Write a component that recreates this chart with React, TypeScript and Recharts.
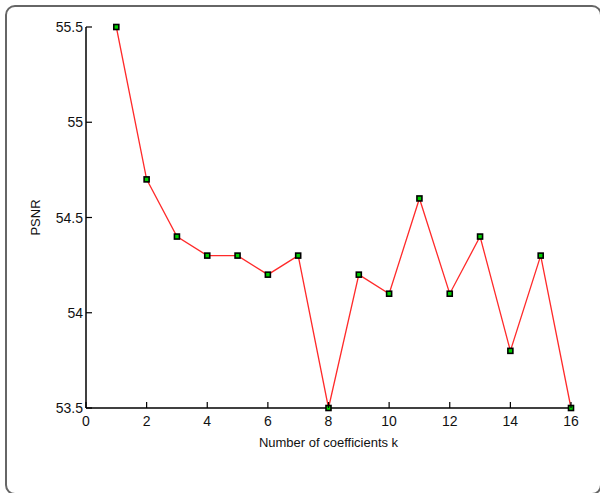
import React from "react";
import { Line, LineChart, XAxis, YAxis } from "recharts";

const K_VALUES = [1, 2, 3, 4, 5, 6, 7, 8, 9, 10, 11, 12, 13, 14, 15, 16];
const PSNR_VALUES = [55.5, 54.7, 54.4, 54.3, 54.3, 54.2, 54.3, 53.5, 54.2, 54.1, 54.6, 54.1, 54.4, 53.8, 54.3, 53.5];
const X_TICKS = [0, 2, 4, 6, 8, 10, 12, 14, 16];
const Y_TICKS = [53.5, 54, 54.5, 55, 55.5];

const data = K_VALUES.map((k, i) => ({ k, psnr: PSNR_VALUES[i] }));

const W = 600;
const H = 493;
const PLOT = { left: 86, top: 27, right: 571, bottom: 408 };
const TICK_LEN = 6;
const FONT = "'Liberation Sans', Arial, Helvetica, sans-serif";
const TEXT = "#111";

function BottomTick({ x, payload }: any) {
  return (
    <g>
      <line x1={x} x2={x} y1={PLOT.bottom} y2={PLOT.bottom - TICK_LEN} stroke="#000" strokeWidth={1.2} />
      <text x={x} y={PLOT.bottom + 18} textAnchor="middle" fontSize={14} fill={TEXT} fontFamily={FONT}>
        {payload.value}
      </text>
    </g>
  );
}

function TopTick({ x }: any) {
  return <line x1={x} x2={x} y1={PLOT.top} y2={PLOT.top + TICK_LEN} stroke="#000" strokeWidth={1.2} />;
}

function LeftTick({ y, payload }: any) {
  return (
    <g>
      <line x1={PLOT.left} x2={PLOT.left + TICK_LEN} y1={y} y2={y} stroke="#000" strokeWidth={1.2} />
      <text x={PLOT.left - 3} y={y + 5} textAnchor="end" fontSize={14} fill={TEXT} fontFamily={FONT}>
        {String(payload.value)}
      </text>
    </g>
  );
}

function RightTick({ y }: any) {
  return <line x1={PLOT.right} x2={PLOT.right - TICK_LEN} y1={y} y2={y} stroke="#000" strokeWidth={1.2} />;
}

// matlab-style square marker: black edge, green face
function SquareDot({ cx, cy }: any) {
  if (cx == null || cy == null) return null;
  return <rect x={cx - 2.5} y={cy - 2.5} width={5} height={5} fill="#00d000" stroke="#000" strokeWidth={1.6} />;
}

export default function App() {
  const midY = (PLOT.top + PLOT.bottom) / 2;
  return (
    <div style={{ position: "absolute", left: 0, top: 0, width: W, height: H, overflow: "hidden", background: "#fff" }}>
      <div
        style={{
          position: "absolute",
          left: 5,
          top: 5,
          width: 597,
          height: 490,
          boxSizing: "border-box",
          border: "2px solid #666",
          borderRadius: 10,
        }}
      />
      <LineChart
        width={W}
        height={H}
        data={data}
        margin={{ top: PLOT.top, right: W - PLOT.right, bottom: H - PLOT.bottom - 30, left: PLOT.left - 40 }}
        style={{ position: "absolute", left: 0, top: 0 }}
      >
        <XAxis
          xAxisId="bottom"
          dataKey="k"
          type="number"
          domain={[0, 16]}
          ticks={X_TICKS}
          height={30}
          axisLine={{ stroke: "#000", strokeWidth: 1.5 }}
          tickLine={false}
          tick={<BottomTick />}
          interval={0}
        />
        <XAxis
          xAxisId="top"
          orientation="top"
          dataKey="k"
          type="number"
          domain={[0, 16]}
          ticks={X_TICKS}
          height={0}
          axisLine={{ stroke: "#000", strokeWidth: 1.5 }}
          tickLine={false}
          tick={<TopTick />}
          interval={0}
        />
        <YAxis
          yAxisId="left"
          type="number"
          domain={[53.5, 55.5]}
          ticks={Y_TICKS}
          width={40}
          axisLine={{ stroke: "#000", strokeWidth: 1.5 }}
          tickLine={false}
          tick={<LeftTick />}
          interval={0}
        />
        <YAxis
          yAxisId="right"
          orientation="right"
          type="number"
          domain={[53.5, 55.5]}
          ticks={Y_TICKS}
          width={0}
          axisLine={{ stroke: "#000", strokeWidth: 1.5 }}
          tickLine={false}
          tick={<RightTick />}
          interval={0}
        />
        <Line
          xAxisId="bottom"
          yAxisId="left"
          dataKey="psnr"
          stroke="#ff2a2a"
          strokeWidth={1.3}
          dot={<SquareDot />}
          activeDot={false}
          isAnimationActive={false}
        />
      </LineChart>
      <svg width={W} height={H} style={{ position: "absolute", left: 0, top: 0, pointerEvents: "none" }}>
        <text x={(PLOT.left + PLOT.right) / 2} y={447} textAnchor="middle" fontSize={13} fill={TEXT} fontFamily={FONT}>
          Number of coefficients k
        </text>
        <text
          x={40}
          y={midY}
          textAnchor="middle"
          fontSize={13}
          fill={TEXT}
          fontFamily={FONT}
          transform={`rotate(-90 40 ${midY})`}
        >
          PSNR
        </text>
      </svg>
    </div>
  );
}
